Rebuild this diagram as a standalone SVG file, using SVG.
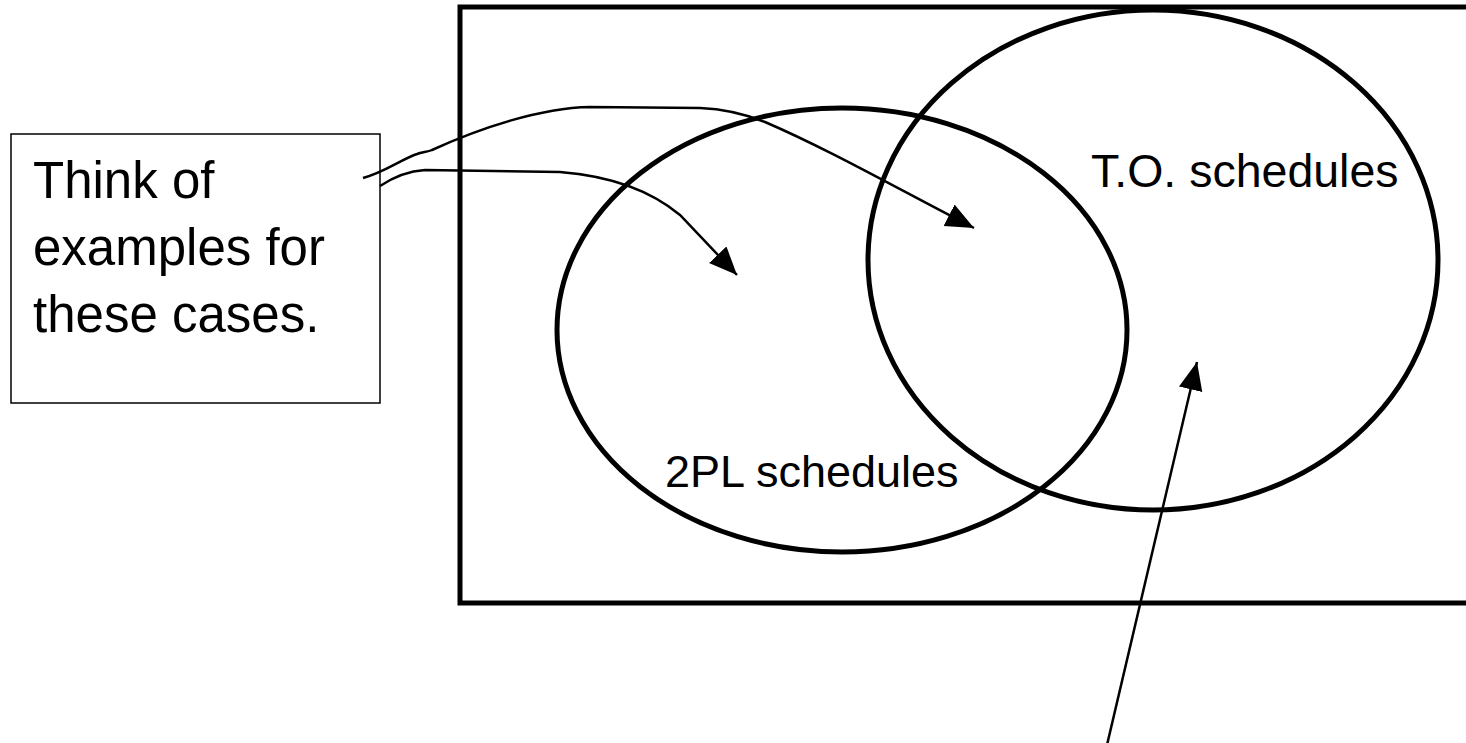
<svg xmlns="http://www.w3.org/2000/svg" width="1466" height="743" viewBox="0 0 1466 743">
  <style>
    .frame { fill: none; stroke: #000; stroke-width: 5; }
    .set { fill: none; stroke: #000; stroke-width: 5; }
    .note { fill: #fff; stroke: #000; stroke-width: 1.5; }
    .link { fill: none; stroke: #000; stroke-width: 2.5; }
    .label { font-family: "Liberation Sans", Arial, sans-serif; fill: #000; }
  </style>
  <defs>
    <marker id="head" markerUnits="userSpaceOnUse" markerWidth="30" markerHeight="26" refX="28" refY="12" orient="auto">
      <path d="M0,0 L28,12 L0,24 Z" fill="#000"/>
    </marker>
  </defs>
  <rect width="1466" height="743" fill="#fff"/>

  <!-- universe of schedules -->
  <g id="universe">
    <path class="frame" d="M1472,7 L460,7 L460,603 L1472,603"/>
  </g>

  <g id="twopl">
    <ellipse class="set" cx="842" cy="330" rx="285" ry="222"/>
    <text class="label" x="665" y="487" font-size="45">2PL schedules</text>
  </g>

  <g id="to">
    <ellipse class="set" cx="1153" cy="260" rx="285" ry="250"/>
    <text class="label" x="1091" y="187" font-size="46.5">T.O. schedules</text>
  </g>

  <g id="note">
    <rect class="note" x="11" y="134" width="369" height="269"/>
    <text class="label" font-size="51">
      <tspan x="33" y="198">Think of</tspan>
      <tspan x="33" y="265">examples for</tspan>
      <tspan x="33" y="332">these cases.</tspan>
    </text>
  </g>

  <g id="connectors">
    <path class="link" marker-end="url(#head)" d="M363,178 C385,172 400,160 417,154 C422,152 428,152 432,150 C480,128 540,108 590,107 L700,108 C725,109 745,114 765,122 C830,150 900,190 974,228"/>
    <path class="link" marker-end="url(#head)" d="M380,186 C395,176 410,171 425,170 L560,172 C610,176 650,190 680,215 L737,275"/>
    <path class="link" marker-end="url(#head)" d="M1107,745 L1197,362"/>
  </g>
</svg>
